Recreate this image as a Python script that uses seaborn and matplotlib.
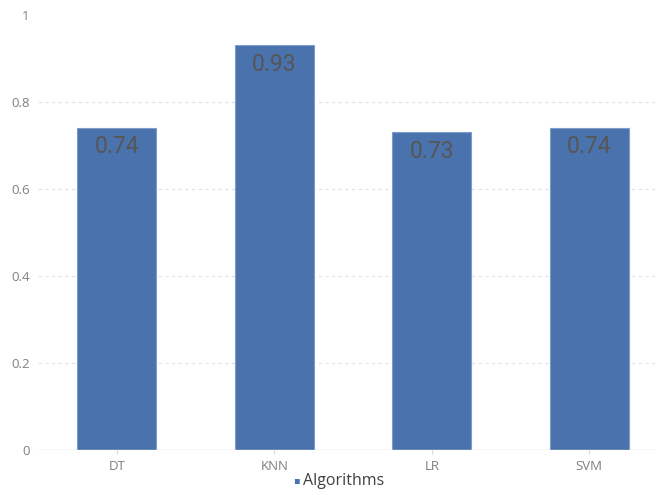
import matplotlib
matplotlib.use("Agg")
import matplotlib.pyplot as plt
import seaborn as sns
import pandas as pd

algorithms = ["DT", "KNN", "LR", "SVM"]
accuracy = [0.74, 0.93, 0.73, 0.74]
y_ticks = [0, 0.2, 0.4, 0.6, 0.8, 1]
y_tick_labels = ["0", "0.2", "0.4", "0.6", "0.8", "1"]
series_name = "Algorithms"

sns.set_theme(style="white")
plt.rcParams["font.family"] = ["Open Sans", "DejaVu Sans"]

df = pd.DataFrame({"algorithm": algorithms, "accuracy": accuracy})

fig = plt.figure(figsize=(6.56, 4.95), dpi=100)
ax = fig.add_axes([38 / 656, 45 / 495, 618 / 656, 435 / 495])

bar_color = "#4a72ad"
sns.barplot(data=df, x="algorithm", y="accuracy", color=bar_color, width=0.5,
            saturation=1, edgecolor="#7f9ccb", linewidth=0.8, ax=ax)

ax.set_xlim(-0.5, -0.5 + 618 / 157.5)
ax.set_ylim(0, 1)
ax.set_yticks(y_ticks)
ax.set_yticklabels(y_tick_labels)
ax.set_xlabel("")
ax.set_ylabel("")

for y in y_ticks[1:-1]:
    ax.axhline(y, color="#e2e2e2", linewidth=0.8, linestyle=(0, (3, 3)), zorder=0)
ax.axhline(0, color="#d9d9d9", linewidth=1, zorder=3)

for s in ax.spines.values():
    s.set_visible(False)

ax.tick_params(axis="y", length=0, labelsize=9.5, colors="#808080", pad=6)
ax.tick_params(axis="x", length=3, width=0.8, color="#d9d9d9", labelsize=9.5,
               labelcolor="#7f7f7f", pad=4, bottom=True)

for i, v in enumerate(accuracy):
    ax.text(i, v - 0.017, f"{v:.2f}", ha="center", va="top", fontsize=16.5,
            color="#565656", family=["Roboto", "DejaVu Sans"], fontweight="normal")

# legend entry below the axis
fig.text(0.452, 14 / 495, "\u25aa", ha="center", va="center", fontsize=7, color=bar_color)
fig.text(0.462, 14 / 495, series_name, ha="left", va="center", fontsize=11.5,
         color="#404040")

fig.savefig("out.png", dpi=100)
